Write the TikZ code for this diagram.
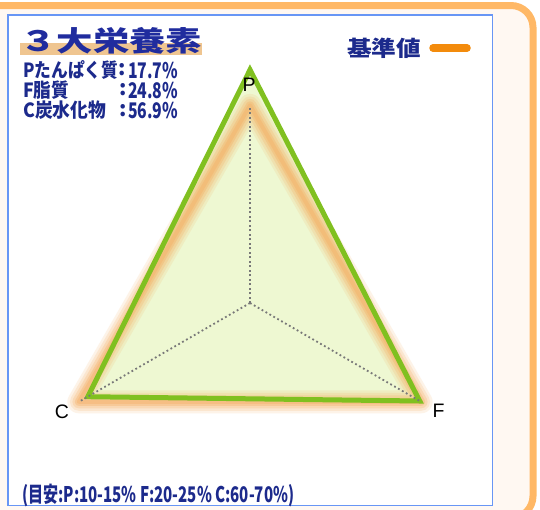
\documentclass[tikz,border=0pt]{standalone}
\usepackage{fontspec}
\usepackage{graphicx}
\newfontfamily\jp{Noto Sans CJK JP}
\newfontfamily\arialf{Liberation Sans}
\definecolor{frameor}{RGB}{255,184,102}
\definecolor{cream}{RGB}{255,248,242}
\definecolor{boxblue}{RGB}{104,150,245}
\definecolor{tanband}{RGB}{239,197,144}
\definecolor{titleblue}{RGB}{32,44,158}
\definecolor{txtblue}{RGB}{28,42,140}
\definecolor{legor}{RGB}{243,139,12}
\definecolor{greenline}{RGB}{128,192,32}
\definecolor{greenfill}{RGB}{238,248,210}
\definecolor{glowc}{RGB}{245,172,95}
\definecolor{axisgray}{RGB}{120,120,120}
\newcommand{\fitw}[2]{\resizebox{#1}{\height}{#2}}
\begin{document}
\begin{tikzpicture}[x=1pt,y=-1pt,
  jptext/.style={inner sep=0pt, text=txtblue, font=\jp\bfseries},
  cornerlbl/.style={inner sep=0pt, text=black, font=\arialf\fontsize{19.5pt}{19.5pt}\selectfont},
  axisline/.style={draw=axisgray, line width=1.8pt, dash pattern=on 1.8pt off 2.7pt},
  glowline/.style={draw=glowc, line join=round},
  valueline/.style={draw=greenline, line width=5pt, line join=miter},
]
\useasboundingbox (0,0) rectangle (540,509);
% outer frame
\draw[draw=frameor, fill=cream, line width=7pt, rounded corners=22pt] (-40,5.5) rectangle (533,518);
% inner box
\draw[draw=boxblue, fill=white, line width=1.3pt] (8,15) rectangle (492.3,505.7);
% title
\fill[tanband] (20,43) rectangle (202,55);
\node[inner sep=0pt, anchor=west, text=titleblue] (title) at (20,40.5)
  {\fitw{182pt}{\fontsize{28pt}{28pt}\jp\bfseries ３大栄養素}};
% value lines
\node[jptext, anchor=west] (l1) at (23,70) {\fitw{95pt}{\fontsize{19.5pt}{19.5pt}\selectfont Pたんぱく質}};
\node[jptext, anchor=west] (l2) at (23,90) {\fitw{46pt}{\fontsize{19.5pt}{19.5pt}\selectfont F脂質}};
\node[jptext, anchor=west] (l3) at (23,110.5) {\fitw{83pt}{\fontsize{19.5pt}{19.5pt}\selectfont C炭水化物}};
\node[jptext] (c1) at (122.5,70) {\fontsize{21pt}{21pt}\selectfont :};
\node[jptext] (c2) at (123.5,90) {\fontsize{21pt}{21pt}\selectfont :};
\node[jptext] (c3) at (123.5,110.5) {\fontsize{21pt}{21pt}\selectfont :};
\node[jptext, anchor=west] (v1) at (128,70) {\fitw{50pt}{\fontsize{21.5pt}{21.5pt}\selectfont 17.7\%}};
\node[jptext, anchor=west] (v2) at (128,90) {\fitw{50pt}{\fontsize{21.5pt}{21.5pt}\selectfont 24.8\%}};
\node[jptext, anchor=west] (v3) at (128,110.5) {\fitw{50pt}{\fontsize{21.5pt}{21.5pt}\selectfont 56.9\%}};
% legend
\node[jptext] (leg) at (384,48.5) {\fitw{74pt}{\fontsize{21.5pt}{21.5pt}\selectfont 基準値}};
\coordinate (lega) at (433,48);
\coordinate (legb) at (467,48);
\draw[draw=legor, line width=7.5pt, line cap=round] (lega) -- (legb);
% radar geometry
\coordinate (O) at (250,303);
\coordinate (P0) at (250,105.4);
\coordinate (C0) at (78.9,401.8);
\coordinate (F0) at (421.1,401.8);
\coordinate (P1) at (250,69.8);
\coordinate (C1) at (87.8,396.7);
\coordinate (F1) at (419.7,401);
% fill of values
\fill[greenfill] (P1) -- (F1) -- (C1) -- cycle;
% glow of standard triangle
\foreach \w/\o in {23/0.14, 18/0.18, 13/0.24, 8/0.32, 4/0.35}
  \draw[glowline, line width=\w pt, opacity=\o] (P0) -- (F0) -- (C0) -- cycle;
% value outline
\draw[valueline] (P1) -- (F1) -- (C1) -- cycle;
% axes
\draw[axisline] (O) -- (P0);
\draw[axisline] (O) -- (C0);
\draw[axisline] (O) -- (F0);
% corner labels
\node[cornerlbl] (pl) at (249,85) {P};
\node[cornerlbl] (cl) at (62,412) {C};
\node[cornerlbl] (fl) at (438.5,410.5) {F};
% bottom note
\node[jptext, anchor=west] (note) at (22,495.5)
  {\fitw{272pt}{\fontsize{21.5pt}{21.5pt}\selectfont (目安:P:10-15\% F:20-25\% C:60-70\%)}};
\end{tikzpicture}
\end{document}
